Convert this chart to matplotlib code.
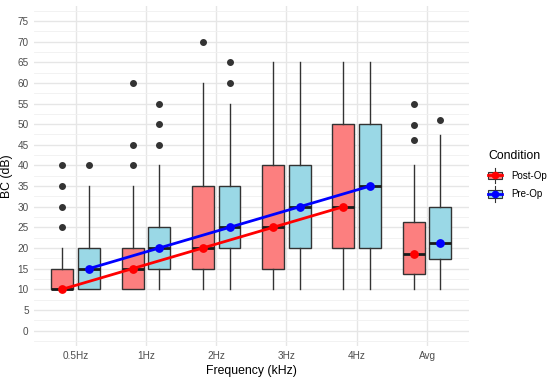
import matplotlib
matplotlib.use("Agg")
import matplotlib.pyplot as plt
from matplotlib.patches import Patch, Rectangle
from matplotlib.lines import Line2D
from matplotlib.legend_handler import HandlerBase
import numpy as np

plt.rcParams['font.family'] = ['Liberation Sans', 'DejaVu Sans']

freqs = ['0.5Hz', '1Hz', '2Hz', '3Hz', '4Hz', 'Avg']

# Post-Op box stats
post_q1 = [10, 10, 15, 15, 20, 13.7]
post_med = [10, 15, 20, 25, 30, 18.6]
post_q3 = [15, 20, 35, 40, 50, 26.2]
post_lo = [10, 10, 10, 10, 10, 10]
post_hi = [20, 35, 60, 65, 65, 40]
post_fliers = [[25, 30, 35, 40], [40, 45, 60], [70], [], [], [46.1, 49.8, 54.8]]

# Pre-Op box stats
pre_q1 = [10, 15, 20, 20, 20, 17.4]
pre_med = [15, 20, 25, 30, 35, 21.2]
pre_q3 = [20, 25, 35, 40, 50, 29.9]
pre_lo = [10, 10, 10, 10, 10, 10]
pre_hi = [35, 40, 55, 65, 65, 47.4]
pre_fliers = [[40], [45, 50, 55], [60, 65], [], [], [51.1]]

post_col = '#FC7F7F'
pre_col = '#9AD8E6'

fig = plt.figure(figsize=(5.5, 3.8), dpi=100)
ax = fig.add_axes([0.061, 0.0895, 0.792, 0.896])

x = np.arange(len(freqs))
off = 0.19
bw = 0.31


def make_stats(q1, med, q3, lo, hi, fl):
    return [dict(q1=a, med=b, q3=c, whislo=d, whishi=e, fliers=f, label='')
            for a, b, c, d, e, f in zip(q1, med, q3, lo, hi, fl)]


for stats, pos, col in [
    (make_stats(post_q1, post_med, post_q3, post_lo, post_hi, post_fliers), x - off, post_col),
    (make_stats(pre_q1, pre_med, pre_q3, pre_lo, pre_hi, pre_fliers), x + off, pre_col),
]:
    ax.bxp(stats, positions=pos, widths=bw, patch_artist=True, showcaps=False,
           boxprops=dict(facecolor=col, edgecolor='#333333', linewidth=1.0),
           whiskerprops=dict(color='#333333', linewidth=1.0),
           medianprops=dict(color='#1a1a1a', linewidth=2.0),
           flierprops=dict(marker='o', markerfacecolor='#333333', markeredgecolor='#333333',
                           markersize=4),
           manage_ticks=False, zorder=2)

# mean lines over frequencies, points also at Avg
ax.plot(x[:5] - off, post_med[:5], color='#FF0000', linewidth=2, zorder=3)
ax.plot(x[:5] + off, pre_med[:5], color='#0000FF', linewidth=2, zorder=3)
ax.scatter(x - off, post_med, color='#FF0000', s=28, zorder=4)
ax.scatter(x + off, pre_med, color='#0000FF', s=28, zorder=4)

ax.set_xlim(-0.6, 5.6)
ax.set_ylim(-3.75, 78.75)
ax.set_xticks(x)
ax.set_xticklabels(freqs)
ax.set_yticks(np.arange(0, 80, 5))
ax.set_yticks(np.arange(-2.5, 80, 5), minor=True)
ax.grid(True, which='major', color='#E6E6E6', linewidth=1.0, zorder=0)
ax.grid(True, which='minor', axis='y', color='#F0F0F0', linewidth=0.6, zorder=0)
ax.set_axisbelow(True)
for s in ax.spines.values():
    s.set_visible(False)
ax.tick_params(which='both', length=0, labelsize=7.2, labelcolor='#4D4D4D', pad=3.5)
ax.set_xlabel('Frequency (kHz)', fontsize=8.8, labelpad=3)
ax.set_ylabel('BC (dB)', fontsize=8.8, labelpad=3)


class BoxKey(HandlerBase):
    # ggplot-like key: whisker, box, line with point
    def create_artists(self, legend, orig, xd, yd, w, h, fontsize, trans):
        cx, cy = -xd + w / 2, -yd + h / 2
        whisk = Line2D([cx, cx], [-yd - 2, -yd + h + 2], color='#333333', lw=0.8)
        box = Rectangle((-xd, -yd + h * 0.12), w, h * 0.76,
                        facecolor=orig.get_facecolor(), edgecolor='#333333', lw=0.8)
        line = Line2D([-xd, -xd + w], [cy, cy], color=orig.line_color, lw=2)
        pt = Line2D([cx], [cy], color=orig.line_color, marker='o', markersize=4.5)
        for a in (whisk, box, line, pt):
            a.set_transform(trans)
        return [whisk, box, line, pt]


h_post = Patch(facecolor=post_col)
h_post.line_color = '#FF0000'
h_pre = Patch(facecolor=pre_col)
h_pre.line_color = '#0000FF'
leg = fig.legend([h_post, h_pre], ['Post-Op', 'Pre-Op'], title='Condition',
                 handler_map={Patch: BoxKey()},
                 loc='upper left', bbox_to_anchor=(488 / 550, 1 - 150 / 380),
                 borderaxespad=0, borderpad=0, frameon=False,
                 fontsize=7, title_fontsize=8.8, handlelength=1.45, handleheight=1.2,
                 handletextpad=0.9, labelspacing=0.85)
leg._legend_box.align = 'left'
leg._legend_box.sep = 6

fig.savefig('out.png', dpi=100)
